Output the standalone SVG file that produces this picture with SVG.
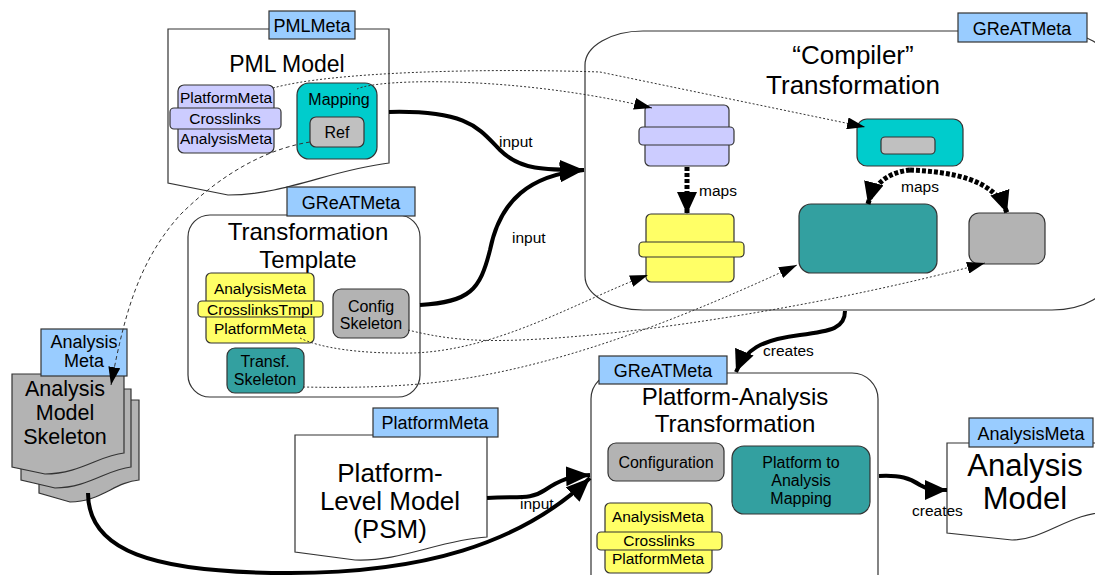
<svg xmlns="http://www.w3.org/2000/svg" width="1095" height="575" viewBox="0 0 1095 575">
<style>
text{font-family:"Liberation Sans",Arial,sans-serif;fill:#000;text-anchor:middle}
.doc{fill:#fff;stroke:#333;stroke-width:1.2}
.lbl{fill:#99ccff;stroke:#333;stroke-width:1.2}
.lav{fill:#ccccff;stroke:#333;stroke-width:1.2}
.yel{fill:#ffff66;stroke:#333;stroke-width:1.2}
.cyan{fill:#00cccc;stroke:#333;stroke-width:1.2}
.teal{fill:#33a0a0;stroke:#333;stroke-width:1.2}
.gray{fill:#b3b3b3;stroke:#333;stroke-width:1.2}
.lgray{fill:#c0c0c0;stroke:#333;stroke-width:1.2}
.thick{fill:none;stroke:#000;stroke-width:4}
.maps{fill:none;stroke:#000;stroke-width:5;stroke-dasharray:4 2}
.dot{fill:none;stroke:#333;stroke-width:1;stroke-dasharray:2 2}
.dash{fill:none;stroke:#333;stroke-width:1;stroke-dasharray:4 3}
.t15{font-size:15.5px}
.t16{font-size:16px}
.t18{font-size:18px}
.cl{font-size:15.5px;text-anchor:start}
</style>
<defs>
<marker id="big" markerUnits="userSpaceOnUse" markerWidth="26" markerHeight="20" refX="24" refY="10" orient="auto"><path d="M0,0 L24,10 L0,20 Z" fill="#000"/></marker>
<marker id="med" markerUnits="userSpaceOnUse" markerWidth="24" markerHeight="20" refX="22" refY="10" orient="auto"><path d="M0,0 L22,10 L0,20 Z" fill="#000"/></marker>
<marker id="small" markerUnits="userSpaceOnUse" markerWidth="20" markerHeight="12" refX="18" refY="6" orient="auto"><path d="M0,0 L18,6 L0,12 Z" fill="#000"/></marker>
</defs>

<g id="compiler">
<rect x="585" y="31" width="525" height="279" rx="58" ry="34" class="doc"/>
<rect x="958" y="13" width="129" height="29" class="lbl"/>
<text x="1022" y="35" class="t18">GReATMeta</text>
<text x="853" y="64" font-size="26">“Compiler”</text>
<text x="853" y="94" font-size="26">Transformation</text>
<rect x="645" y="105" width="84" height="61" rx="5" class="lav"/>
<rect x="639" y="127" width="95" height="18" rx="4" class="lav"/>
<rect x="646" y="214" width="88" height="68" rx="5" class="yel"/>
<rect x="639" y="242" width="105" height="15" rx="4" class="yel"/>
<rect x="857" y="119" width="106" height="47" rx="10" class="cyan"/>
<rect x="881" y="137" width="54" height="17" rx="4" class="lgray"/>
<rect x="799" y="204" width="138" height="69" rx="12" class="teal"/>
<rect x="969" y="213" width="76" height="51" rx="10" class="gray"/>
</g>

<g id="pml-model">
<path d="M168,29 H389 V163 C 330,170 285,195 228,195 L168,183 Z" class="doc"/>
<rect x="269" y="11" width="86" height="28" class="lbl"/>
<text x="312" y="32" class="t18">PMLMeta</text>
<text x="287" y="72" font-size="23">PML Model</text>
<rect x="178" y="85" width="96" height="68" rx="6" class="lav"/>
<rect x="170" y="108" width="111" height="21" rx="4" class="lav"/>
<text x="226" y="103" class="t15">PlatformMeta</text>
<text x="225" y="124" class="t15">Crosslinks</text>
<text x="226" y="144" class="t15">AnalysisMeta</text>
<rect x="297" y="83" width="80" height="76" rx="12" class="cyan"/>
<text x="339" y="105" class="t16">Mapping</text>
<rect x="310" y="117" width="54" height="30" rx="6" class="lgray"/>
<text x="337" y="138" class="t16">Ref</text>
</g>

<g id="transformation-template">
<rect x="188" y="215" width="232" height="182" rx="22" class="doc"/>
<rect x="287" y="187" width="128" height="29" class="lbl"/>
<text x="351" y="209" class="t18">GReATMeta</text>
<text x="308" y="240" font-size="24">Transformation</text>
<text x="308" y="268" font-size="24">Template</text>
<rect x="206" y="273" width="108" height="70" rx="5" class="yel"/>
<rect x="198" y="301" width="125" height="16" rx="4" class="yel"/>
<text x="260" y="294" class="t15">AnalysisMeta</text>
<text x="260" y="315" class="t15">CrosslinksTmpl</text>
<text x="260" y="334" class="t15">PlatformMeta</text>
<rect x="333" y="289" width="76" height="49" rx="8" class="gray"/>
<text x="371" y="312" class="t16">Config</text>
<text x="371" y="329" class="t16">Skeleton</text>
<rect x="227" y="348" width="77" height="45" rx="8" class="teal"/>
<text x="265" y="367" class="t16">Transf.</text>
<text x="265" y="385" class="t16">Skeleton</text>
</g>

<g id="analysis-model-skeleton">
<path d="M39,400 H139 V480 C 115,482 100,502 70,502 L39,493 Z" class="gray"/>
<path d="M21,389 H131 V467 C 108,469 88,488 55,488 L21,480 Z" class="gray"/>
<path d="M12,374 H124 V453 C 100,455 80,474 45,474 L12,467 Z" class="gray"/>
<rect x="41" y="329" width="86" height="47" class="lbl"/>
<text x="84" y="348" class="t18">Analysis</text>
<text x="84" y="367" class="t18">Meta</text>
<text x="65" y="396" font-size="21.5">Analysis</text>
<text x="65" y="420" font-size="21.5">Model</text>
<text x="65" y="444" font-size="21.5">Skeleton</text>
</g>

<g id="psm">
<path d="M295,435 H487 V537 C 440,540 400,562 355,560 L295,552 Z" class="doc"/>
<rect x="373" y="408" width="125" height="29" class="lbl"/>
<text x="435" y="429" class="t18">PlatformMeta</text>
<text x="390" y="482" font-size="26">Platform-</text>
<text x="390" y="510" font-size="26">Level Model</text>
<text x="390" y="538" font-size="26">(PSM)</text>
</g>

<g id="platform-analysis-transformation">
<rect x="591" y="373" width="287" height="230" rx="26" class="doc"/>
<rect x="599" y="356" width="128" height="28" class="lbl"/>
<text x="663" y="377" class="t18">GReATMeta</text>
<text x="735" y="405" font-size="24">Platform-Analysis</text>
<text x="735" y="432" font-size="24">Transformation</text>
<rect x="608" y="443" width="116" height="38" rx="8" class="gray"/>
<text x="666" y="468" class="t16">Configuration</text>
<rect x="732" y="446" width="138" height="68" rx="12" class="teal"/>
<text x="801" y="468" class="t16">Platform to</text>
<text x="801" y="486" class="t16">Analysis</text>
<text x="801" y="504" class="t16">Mapping</text>
<rect x="605" y="503" width="107" height="70" rx="5" class="yel"/>
<rect x="597" y="532" width="125" height="18" rx="4" class="yel"/>
<text x="658" y="522" class="t15">AnalysisMeta</text>
<text x="659" y="546" class="t15">Crosslinks</text>
<text x="658" y="564" class="t15">PlatformMeta</text>
</g>

<g id="analysis-model">
<path d="M947,443 H1110 V512 C 1070,512 1045,540 1012,540 L947,533 Z" class="doc"/>
<rect x="969" y="418" width="124" height="29" class="lbl"/>
<text x="1031" y="440" class="t18">AnalysisMeta</text>
<text x="1025" y="476" font-size="31">Analysis</text>
<text x="1025" y="509" font-size="31">Model</text>
</g>

<g id="connectors">
<path d="M389,112 C 470,110 480,130 500,150 C 520,170 545,170 584,170" class="thick" marker-end="url(#big)"/>
<path d="M420,305 C 470,302 480,290 490,250 C 500,200 530,175 584,170" class="thick" marker-end="url(#big)"/>
<path d="M487,498 C 520,496 530,500 545,490 C 560,480 570,476 590,475" class="thick" marker-end="url(#big)"/>
<path d="M88,493 C 88,550 150,573 290,573 C 420,573 520,545 590,478" class="thick" marker-end="url(#big)"/>
<path d="M845,311 C 845,328 832,331 800,335 C 760,340 745,350 736,372" class="thick" marker-end="url(#med)"/>
<path d="M879,476 C 900,475 910,478 920,485 C 928,490 935,490 947,490" class="thick" marker-end="url(#med)"/>
<path d="M687,167 V214" class="maps" marker-end="url(#med)"/>
<path d="M910,170 C 890,172 874,182 868,204" class="maps" marker-end="url(#med)"/>
<path d="M910,170 C 950,172 995,178 1007,213" class="maps" marker-end="url(#med)"/>
<path d="M273,88 C 330,72 480,68 600,72 L865,127" class="dot" marker-end="url(#small)"/>
<path d="M357,89 C 380,78 520,76 652,108" class="dot" marker-end="url(#small)"/>
<path d="M300,338 C 320,348 360,354 413,353 C 500,350 580,300 648,275" class="dot" marker-end="url(#small)"/>
<path d="M408,330 C 440,338 470,342 520,340 C 650,335 850,300 985,263" class="dot" marker-end="url(#small)"/>
<path d="M303,387 C 350,388 390,387 430,383 C 560,370 700,310 797,265" class="dot" marker-end="url(#small)"/>
<path d="M310,142 C 260,150 215,180 180,215 C 140,260 125,310 111,385" class="dash" marker-end="url(#small)"/>
<text x="499" y="147" class="cl">input</text>
<text x="512" y="243" class="cl">input</text>
<text x="520" y="509" class="cl">input</text>
<text x="699" y="196" class="cl">maps</text>
<text x="901" y="192" class="cl">maps</text>
<text x="763" y="356" class="cl">creates</text>
<text x="912" y="516" class="cl">creates</text>
</g>
</svg>
